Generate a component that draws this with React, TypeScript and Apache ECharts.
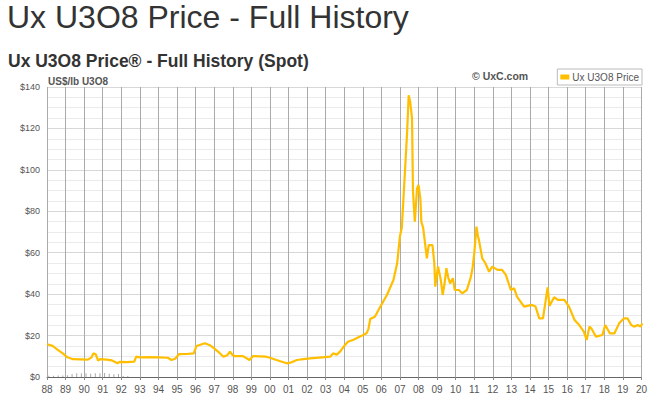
import React, { useEffect, useRef } from "react";
import * as echarts from "echarts";

const years: number[] = [
  1988.0, 1988.3, 1988.6, 1988.85, 1989.1, 1989.4, 1989.8, 1990.2, 1990.4, 1990.5,
  1990.62, 1990.75, 1990.85, 1991.2, 1991.5, 1991.8, 1991.9, 1992.3, 1992.7, 1992.8,
  1993.0, 1993.5, 1994.0, 1994.5, 1994.7, 1994.9, 1995.1, 1995.5, 1995.9, 1996.05,
  1996.5, 1996.8, 1997.0, 1997.3, 1997.5, 1997.7, 1997.85, 1998.0, 1998.1, 1998.55,
  1998.9, 1999.1, 1999.8, 2000.0, 2000.35, 2000.9, 2001.1, 2001.45, 2001.8, 2002.15,
  2002.8, 2003.25, 2003.4, 2003.6, 2003.8, 2004.0, 2004.2, 2004.5, 2004.85, 2005.2,
  2005.3, 2005.4, 2005.65, 2005.95, 2006.3, 2006.65, 2006.85, 2007.0, 2007.1, 2007.2,
  2007.38, 2007.47, 2007.55, 2007.65, 2007.7, 2007.8, 2007.92, 2008.0, 2008.1, 2008.15,
  2008.25, 2008.45, 2008.55, 2008.75, 2008.85, 2008.9, 2009.05, 2009.2, 2009.3, 2009.4,
  2009.5, 2009.6, 2009.7, 2009.85, 2009.95, 2010.17, 2010.35, 2010.6, 2010.8, 2010.9,
  2011.0, 2011.12, 2011.2, 2011.25, 2011.43, 2011.6, 2011.8, 2011.97, 2012.25, 2012.5,
  2012.7, 2012.97, 2013.15, 2013.3, 2013.68, 2014.1, 2014.3, 2014.5, 2014.7, 2014.85,
  2014.95, 2015.05, 2015.3, 2015.5, 2015.85, 2016.1, 2016.4, 2016.65, 2016.9, 2017.05,
  2017.2, 2017.3, 2017.45, 2017.55, 2017.9, 2018.05, 2018.3, 2018.55, 2018.8, 2019.05,
  2019.25, 2019.45, 2019.6, 2019.8, 2019.95, 2020.05,
];

const prices: number[] = [
  15.8, 15.0, 13.0, 11.4, 9.5, 8.6, 8.5, 8.4, 9.5, 11.4,
  11.0, 7.9, 8.6, 8.4, 8.0, 6.6, 7.3, 7.2, 7.4, 9.8,
  9.5, 9.6, 9.5, 9.3, 8.2, 8.8, 11.0, 11.1, 11.4, 15.0,
  16.3, 15.2, 13.8, 11.5, 9.8, 10.5, 12.2, 10.5, 10.1, 10.1,
  8.2, 10.1, 9.8, 9.3, 8.2, 6.6, 6.9, 8.2, 8.6, 9.0,
  9.5, 9.8, 11.4, 10.8, 12.5, 15.0, 17.0, 18.0, 19.5, 21.1,
  23.0, 28.0, 29.1, 34.0, 39.6, 46.8, 54.9, 68.0, 72.0, 88.0,
  117.0, 136.0, 133.0, 125.0, 90.0, 75.0, 91.0, 92.7, 86.0, 75.0,
  72.0, 57.3, 63.7, 63.7, 55.0, 43.6, 53.3, 46.8, 39.6, 45.0,
  52.5, 48.0, 45.2, 47.7, 42.0, 42.0, 40.4, 42.0, 47.7, 52.0,
  59.7, 72.6, 68.0, 66.2, 57.3, 54.9, 50.8, 53.3, 51.7, 51.7,
  49.3, 42.0, 42.8, 38.8, 34.0, 34.8, 34.0, 28.3, 28.3, 37.2,
  43.3, 34.3, 38.5, 37.2, 37.2, 34.0, 27.5, 25.1, 21.9, 17.9,
  24.3, 23.5, 21.1, 19.5, 20.3, 25.1, 21.1, 21.1, 25.9, 28.3,
  28.3, 25.1, 24.3, 25.1, 24.3, 25.9,
];

const volumeYears: number[] = [
  1988.1, 1988.35, 1988.6, 1988.85, 1989.1, 1989.35, 1989.6, 1989.85, 1990.1,
  1990.35, 1990.6, 1990.85, 1991.1, 1991.35, 1991.6, 1991.85, 1992.1, 1992.35,
];
const volumes: number[] = [
  0.6, 0.6, 0.7, 0.7, 0.8, 1.5, 1.8, 1.8, 1.8, 1.6, 1.8, 1.8, 1.9, 1.6, 1.3, 1.5, 0.5, 0.5,
];

const yTicks = { min: 0, max: 140, interval: 20 };
const xTicks = { min: 1988, max: 2020, interval: 1 };

const FONT = "'Liberation Sans', Arial, sans-serif";

export default function App() {
  const ref = useRef<HTMLDivElement>(null);
  useEffect(() => {
    if (!ref.current) return;
    const chart = echarts.init(ref.current, null, { renderer: "svg" });
    chart.setOption({
      animation: false,
      backgroundColor: "#fff",
      textStyle: { fontFamily: FONT },
      graphic: [
        {
          type: "text",
          style: {
            x: 7, y: 17, text: "Ux U3O8 Price - Full History",
            fontSize: 32, fontFamily: FONT, fill: "#333", verticalAlign: "middle",
          },
        },
        {
          type: "text",
          style: {
            x: 8, y: 61, text: "Ux U3O8 Price\u00AE - Full History (Spot)",
            fontSize: 17.5, fontWeight: "bold", fontFamily: FONT, fill: "#333", verticalAlign: "middle",
          },
        },
        {
          type: "text",
          style: {
            x: 48, y: 81, text: "US$/lb U3O8",
            fontSize: 10, fontWeight: "bold", fontFamily: FONT, fill: "#555", verticalAlign: "middle",
          },
        },
        {
          type: "text",
          style: {
            x: 472, y: 76, text: "\u00A9 UxC.com",
            fontSize: 10.5, fontWeight: "bold", fontFamily: FONT, fill: "#555", verticalAlign: "middle",
          },
        },
      ],
      legend: {
        data: ["Ux U3O8 Price"],
        right: 8,
        top: 69,
        icon: "rect",
        itemWidth: 9,
        itemHeight: 5,
        itemGap: 4,
        padding: [3, 3, 3, 3],
        borderColor: "#bbb",
        borderWidth: 1,
        textStyle: { fontSize: 10, color: "#555", fontFamily: FONT, padding: [0, 0, 0, -2] },
      },
      grid: { left: 47, right: 8, top: 87, bottom: 23, containLabel: false },
      xAxis: {
        type: "value",
        min: xTicks.min,
        max: xTicks.max,
        interval: xTicks.interval,
        axisLine: { show: true, lineStyle: { color: "#666", width: 1 } },
        axisTick: { show: true, length: 3, lineStyle: { color: "#888" } },
        axisLabel: {
          color: "#555", fontSize: 10, margin: 7, fontFamily: FONT,
          formatter: (v: number) => String(Math.round(v) % 100).padStart(2, "0"),
        },
        splitLine: { show: true, lineStyle: { color: "#aaaaaa", width: 1 } },
      },
      yAxis: {
        type: "value",
        min: yTicks.min,
        max: yTicks.max,
        interval: yTicks.interval,
        axisLine: { show: false },
        axisTick: { show: false },
        axisLabel: {
          color: "#555", fontSize: 9, margin: 7, fontFamily: FONT,
          formatter: (v: number) => "$" + v,
        },
        splitLine: { show: true, lineStyle: { color: "#d8d8d8", width: 1 } },
        minorTick: { show: false, splitNumber: 4 },
        minorSplitLine: { show: true, lineStyle: { color: "#ebebeb", width: 1 } },
      },
      series: [
        {
          name: "Volume",
          type: "bar",
          data: volumeYears.map((y, i) => [y, volumes[i]]),
          barWidth: 1,
          itemStyle: { color: "#aaa" },
          silent: true,
        },
        {
          name: "Ux U3O8 Price",
          type: "line",
          data: years.map((y, i) => [y, prices[i]]),
          showSymbol: false,
          symbol: "none",
          lineStyle: { color: "#FFBF00", width: 2.2 },
          itemStyle: { color: "#FFBF00" },
        },
      ],
    });
    return () => chart.dispose();
  }, []);
  return <div ref={ref} style={{ width: 650, height: 400, position: "absolute", left: 0, top: 0 }} />;
}
